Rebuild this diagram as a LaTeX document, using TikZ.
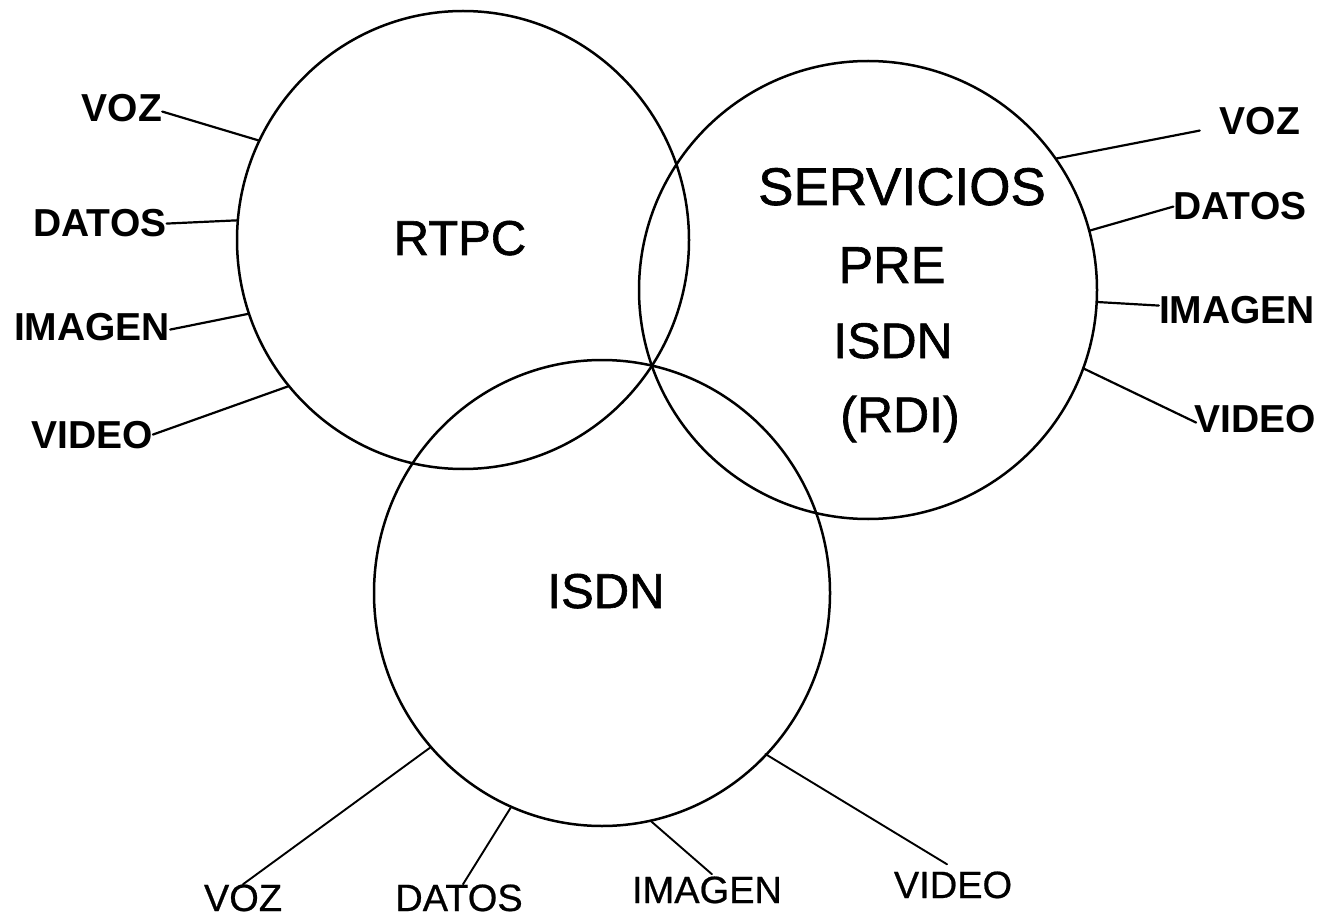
\documentclass[tikz,border=0pt]{standalone}
\usepackage{fontspec}
\setmainfont{Liberation Sans}
\newfontfamily\medfont[FakeBold=1.2]{Liberation Sans}
\newfontfamily\lowfont[FakeBold=0.6]{Liberation Sans}
\usetikzlibrary{shapes.geometric}
\begin{document}
\begin{tikzpicture}[x=1pt,y=-1pt,
  ring/.style={draw, ellipse, inner sep=0pt, outer sep=0pt, line width=2.5pt},
  big/.style={inner sep=0pt, anchor=base},
  side/.style={inner sep=0pt, anchor=base, font=\bfseries\fontsize{39}{39}\selectfont},
  low/.style={inner sep=0pt, anchor=base, font=\lowfont\fontsize{38}{38}\selectfont},
  lead/.style={line width=2.2pt, line cap=round},
  leadlow/.style={line width=1.9pt, line cap=round}]
\useasboundingbox (0,0) rectangle (1330,917);

% circles
\node[ring, minimum width=452pt, minimum height=458pt] (rtpc) at (463,240) {};
\node[ring, minimum width=458pt, minimum height=458pt] (serv) at (868,290) {};
\node[ring, minimum width=456pt, minimum height=466pt] (isdn) at (602,593) {};

% main texts
\node[big, font=\medfont\fontsize{49}{49}\selectfont] (trtpc) at (460,255) {RTPC};
\node[big, font=\medfont\fontsize{53}{53}\selectfont] (tserv1) at (902,205) {SERVICIOS};
\node[big, font=\medfont\fontsize{52}{52}\selectfont] (tserv2) at (892,283) {PRE};
\node[big, font=\medfont\fontsize{50}{50}\selectfont] (tserv3) at (893,358) {ISDN};
\node[big, font=\medfont\fontsize{50}{50}\selectfont] (tserv4) at (900,432) {(RDI)};
\node[big, font=\medfont\fontsize{49}{49}\selectfont] (tisdn) at (606,608) {ISDN};

% left labels
\node[side] (lvoz) at (122,122) {VOZ};
\node[side] (ldat) at (100,237) {DATOS};
\node[side] (limg) at (92,340) {IMAGEN};
\node[side] (lvid) at (92,448) {VIDEO};
% right labels
\node[side] (rvoz) at (1260,135) {VOZ};
\node[side] (rdat) at (1240,220) {DATOS};
\node[side] (rimg) at (1237,323) {IMAGEN};
\node[side] (rvid) at (1255,432) {VIDEO};
% bottom labels
\node[low] (bvoz) at (243,911) {VOZ};
\node[low] (bdat) at (459,911) {DATOS};
\node[low] (bimg) at (707,903) {IMAGEN};
\node[low] (bvid) at (953,898) {VIDEO};

% left leaders
\draw[lead] ([yshift=-3pt]lvoz.east) -- (rtpc.154);
\draw[lead] (ldat.east) -- (rtpc.175);
\draw[lead] ([yshift=-3pt]limg.east) -- (rtpc.199);
\draw[lead] (lvid.east) -- (rtpc.220);
% right leaders
\draw[lead] (serv.35) -- ([xshift=-20pt,yshift=-9pt]rvoz.west);
\draw[lead] (serv.15.6) -- (rdat.west);
\draw[lead] (serv.-3.8) -- ([yshift=4pt]rimg.west);
\draw[lead] (serv.-20.5) -- ([xshift=2pt,yshift=-4pt]rvid.west);
% bottom leaders
\draw[leadlow] (isdn.222.4) -- (bvoz.north);
\draw[leadlow] (isdn.247.3) -- ([xshift=4pt]bdat.north);
\draw[leadlow] (isdn.282.3) -- ([xshift=5pt,yshift=2pt]bimg.north);
\draw[leadlow] ([xshift=-5pt,yshift=-4pt]isdn.317.8) -- ([xshift=-6pt,yshift=7pt]bvid.north);
\end{tikzpicture}
\end{document}
